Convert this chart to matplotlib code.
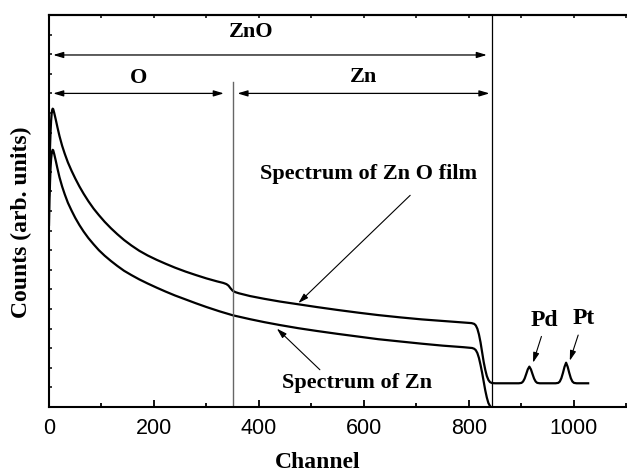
import numpy as np
import matplotlib
matplotlib.use("Agg")
import matplotlib.pyplot as plt
from matplotlib.ticker import MultipleLocator, NullFormatter

# ---- spectra (channel, counts in arb. units) ----
zno_ch = [0, 1, 2, 3, 4, 5, 6, 7, 8, 10, 13, 16, 20, 25, 30, 36, 43, 50, 58,
          66, 75, 85, 95, 106, 118, 130, 143, 157, 172, 188, 205, 222, 240,
          260, 280, 300, 320, 332, 338, 342, 346, 350, 355, 362, 383, 410, 440,
          475, 510, 550, 590, 627, 670, 710, 750, 790, 805, 810, 813, 816, 819,
          822, 825, 828, 831, 834, 837, 840, 844, 850,
          895, 900, 903, 906, 909, 912, 915, 918, 921, 924, 927, 930, 935,
          965, 970, 973, 976, 979, 982, 985, 988, 991, 994, 997, 1000, 1005,
          1027]
zno_counts = [10.8, 12.3, 13.3, 14.05, 14.6, 14.95, 15.15, 15.22, 15.2, 15.0,
              14.65, 14.28, 13.82, 13.33, 12.92, 12.48, 12.05, 11.66, 11.25,
              10.88, 10.5, 10.12, 9.79, 9.45, 9.12, 8.82, 8.52, 8.24, 7.97,
              7.73, 7.51, 7.31, 7.11, 6.91, 6.73, 6.56, 6.41, 6.33, 6.27, 6.19,
              6.05, 5.93, 5.86, 5.8, 5.66, 5.52, 5.38, 5.24, 5.1, 4.95, 4.81,
              4.69, 4.57, 4.47, 4.39, 4.31, 4.28, 4.24, 4.16, 3.99, 3.7, 3.3,
              2.8, 2.3, 1.9, 1.58, 1.38, 1.27, 1.22, 1.21,
              1.21, 1.23, 1.3, 1.45, 1.68, 1.92, 2.06, 1.92, 1.68, 1.45, 1.3,
              1.23, 1.21,
              1.21, 1.23, 1.3, 1.47, 1.74, 2.05, 2.26, 2.05, 1.74, 1.47, 1.3,
              1.23, 1.21, 1.21]

zn_ch = [0, 1, 2, 3, 4, 5, 6, 7, 8, 10, 13, 16, 20, 25, 30, 36, 43, 50, 58,
         66, 75, 85, 95, 106, 118, 130, 143, 157, 172, 188, 205, 222, 240, 260,
         280, 300, 325, 350, 383, 410, 440, 475, 510, 550, 590, 627, 670, 710,
         750, 790, 806, 810, 813, 816, 819, 822, 825, 828, 831, 834, 837, 840,
         842]
zn_counts = [9.3, 10.6, 11.5, 12.2, 12.65, 12.9, 13.05, 13.12, 13.1, 12.9,
             12.55, 12.18, 11.72, 11.25, 10.85, 10.42, 10.02, 9.65, 9.28, 8.95,
             8.62, 8.3, 8.0, 7.72, 7.45, 7.2, 6.95, 6.73, 6.51, 6.3, 6.09,
             5.89, 5.69, 5.49, 5.29, 5.1, 4.88, 4.68, 4.48, 4.33, 4.18, 4.02,
             3.88, 3.73, 3.59, 3.46, 3.34, 3.23, 3.13, 3.05, 3.01, 2.97, 2.9,
             2.75, 2.5, 2.15, 1.75, 1.3, 0.85, 0.48, 0.2, 0.05, 0.0]

# region boundaries (channel)
O_EDGE = 350
ZN_EDGE = 843

SERIF = "Liberation Serif"
SANS = "Liberation Sans"

fig = plt.figure(figsize=(6.27, 4.74), dpi=100)
ax = fig.add_axes([49 / 627, 67 / 474, 578 / 627, 392 / 474])

ax.plot(zno_ch, zno_counts, color="black", lw=1.6, solid_joinstyle="round")
ax.plot(zn_ch, zn_counts, color="black", lw=1.6, solid_joinstyle="round")

ax.plot([O_EDGE, O_EDGE], [0, 16.6], color="0.4", lw=1.0)
ax.plot([ZN_EDGE, ZN_EDGE], [0, 20], color="black", lw=0.9)

ax.set_xlim(0, 1101)
ax.set_ylim(0, 20)

# ---- range arrows ----
dbl = dict(arrowstyle="<|-|>,head_length=0.6,head_width=0.18",
           color="black", lw=0.9, shrinkA=0, shrinkB=0)
ax.annotate("", xy=(8, 17.96), xytext=(834, 17.96), arrowprops=dbl)
ax.annotate("", xy=(8, 16.0), xytext=(333, 16.0), arrowprops=dbl)
ax.annotate("", xy=(359, 16.0), xytext=(839, 16.0), arrowprops=dbl)

tfont = dict(family=SERIF, fontweight="bold", fontsize=16)
ax.text(385, 18.88, "ZnO", ha="center", va="baseline", **tfont)
ax.text(170, 16.55, "O", ha="center", va="baseline", **tfont)
ax.text(599, 16.58, "Zn", ha="center", va="baseline", **tfont)

# ---- curve labels ----
ptr = dict(arrowstyle="-|>,head_length=0.6,head_width=0.18",
           color="black", lw=0.8, shrinkA=0, shrinkB=0)
ax.text(608, 11.63, "Spectrum of Zn O film", ha="center", va="baseline", **tfont)
ax.annotate("", xy=(475, 5.3), xytext=(688, 10.8), arrowprops=ptr)

ax.text(586, 0.97, "Spectrum of Zn", ha="center", va="baseline", **tfont)
ax.annotate("", xy=(434, 4.0), xytext=(516, 1.9), arrowprops=ptr)

pfont = dict(family=SERIF, fontweight="bold", fontsize=17)
ax.text(943, 4.13, "Pd", ha="center", va="baseline", **pfont)
ax.annotate("", xy=(922, 2.26), xytext=(938, 3.6), arrowprops=ptr)
ax.text(1018, 4.22, "Pt", ha="center", va="baseline", **pfont)
ax.annotate("", xy=(992, 2.36), xytext=(1008, 3.67), arrowprops=ptr)

# ---- axes styling ----
for s in ("left", "bottom", "top"):
    ax.spines[s].set_linewidth(1.5)
ax.spines["right"].set_visible(False)

ax.xaxis.set_major_locator(MultipleLocator(200))
ax.xaxis.set_minor_locator(MultipleLocator(100))
ax.yaxis.set_major_locator(MultipleLocator(1))
ax.yaxis.set_major_formatter(NullFormatter())
ax.tick_params(axis="x", which="major", direction="in", length=5, width=1.3,
               pad=8, labelsize=15.5)
ax.tick_params(axis="x", which="minor", direction="in", length=3, width=1.3)
ax.tick_params(axis="y", which="major", direction="in", length=2.5, width=1.1)
for lbl in ax.get_xticklabels():
    lbl.set_family(SANS)

top = ax.secondary_xaxis("top")
top.xaxis.set_major_locator(MultipleLocator(100))
top.xaxis.set_major_formatter(NullFormatter())
top.tick_params(direction="in", length=2.5, width=1.1)
top.spines["top"].set_linewidth(1.5)

lfont = dict(family=SERIF, fontweight="bold", fontsize=17)
ax.set_xlabel("Channel", **lfont)
ax.xaxis.set_label_coords((318 - 49) / 578, -(452 - 407) / 392)
ax.set_ylabel("Counts (arb. units)", **lfont)
ax.yaxis.set_label_coords(-(49 - 32) / 578, (407 - 222) / 392)

fig.savefig("out.png", dpi=100)
